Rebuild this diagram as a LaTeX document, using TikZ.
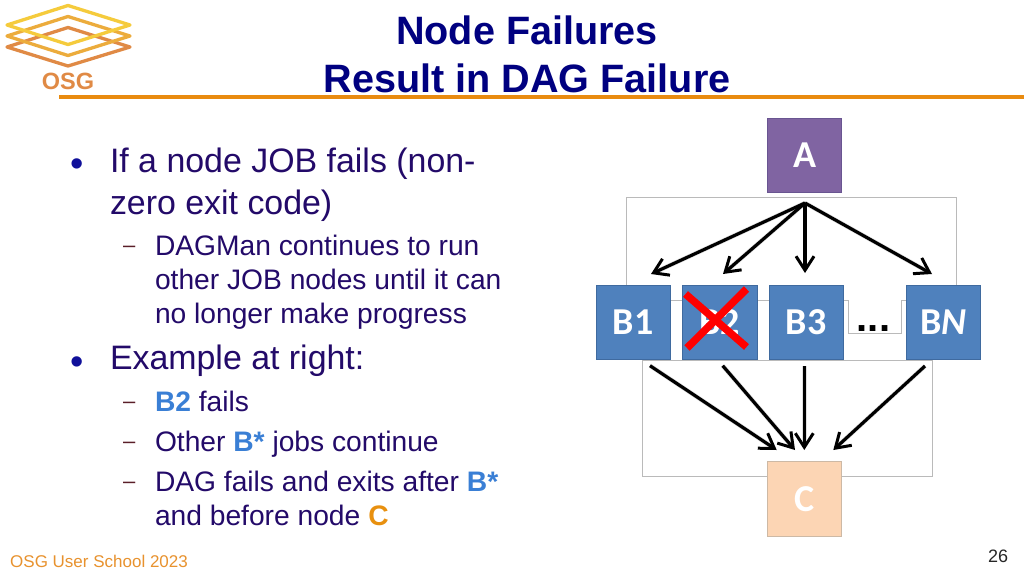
\documentclass[tikz,border=0pt]{standalone}
\usepackage{fontspec}
\setmainfont{Liberation Sans}
\newfontfamily\calfam{Carlito}
\usetikzlibrary{arrows.meta}
\definecolor{navy}{HTML}{000080}
\definecolor{bodyc}{HTML}{230A69}
\definecolor{bulc}{HTML}{10109A}
\definecolor{dashc}{HTML}{5A1E28}
\definecolor{blueb}{HTML}{4F81BD}
\definecolor{blueedge}{HTML}{3F6A9F}
\definecolor{hl}{HTML}{3A7FD5}
\definecolor{orangeh}{HTML}{E8900F}
\definecolor{rulec}{HTML}{E98B10}
\definecolor{osgc}{HTML}{E08A45}
\definecolor{footc}{HTML}{E8922E}
\tikzset{
 x=1pt,y=-1pt,
 lab/.style={inner sep=0pt,outer sep=0pt,anchor=base west,text=bodyc},
 big/.style={lab,font=\fontsize{33.9}{33.9}\selectfont},
 small/.style={lab,font=\fontsize{28.2}{28.2}\selectfont},
 bul/.style={inner sep=0pt,outer sep=0pt,anchor=base,text=bulc,font=\fontsize{38}{38}\selectfont},
 dsh/.style={inner sep=0pt,outer sep=0pt,anchor=base west,text=dashc,font=\fontsize{22}{22}\selectfont},
 title/.style={inner sep=0pt,anchor=base,text=navy,font=\fontsize{39.6}{39.6}\selectfont\bfseries},
 box/.style={minimum width=74pt,minimum height=74pt,inner sep=0pt,draw=blueedge,line width=.8pt,fill=blueb,text=white,font=\calfam\fontsize{38}{38}\selectfont\bfseries},
 arr/.style={draw=black,line width=3.2pt,-{Straight Barb[length=14pt,width=18pt,line width=3pt]}},
 arrshadow/.style={draw=black,opacity=.12,line width=4.5pt,shorten >=4pt},
 grp/.style={draw=black!27,line width=.8pt},
 logoline/.style={line width=3.3pt,line join=round},
}
\begin{document}
\begin{tikzpicture}
\useasboundingbox (0,0) rectangle (1024,576);
\fill[white] (0,0) rectangle (1024,576);
% logo
\draw[osgc,logoline] (7,47)--(68,27.5)--(130,47)--(68,66)--cycle;
\draw[color={rgb,255:red,236;green,172;blue,60},logoline] (7,36)--(68,16.5)--(130,36)--(68,55.5)--cycle;
\draw[color={rgb,255:red,245;green,203;blue,60},logoline] (7,25)--(68,5.5)--(130,25)--(68,44.5)--cycle;
\node[inner sep=0pt,anchor=base,text=osgc,font=\fontsize{23.5}{23.5}\selectfont\bfseries] (osg) at (68,89) {OSG};
\fill[rulec] (59,95) rectangle (1024,99);
% titles
\node[title] (t1) at (527,44.5) {Node Failures};
\node[title] (t2) at (527,92) {Result in DAG Failure};
% body
\node[bul] (b1) at (76.7,176.7) {•};
\node[big] (l1) at (110,172.5) {If a node JOB fails (non-};
\node[big] (l2) at (110,214) {zero exit code)};
\node[dsh] (d1) at (123,252.7) {–};
\node[small] (l3) at (155,255) {DAGMan continues to run};
\node[small] (l4) at (155,289) {other JOB nodes until it can};
\node[small] (l5) at (155,323) {no longer make progress};
\node[bul] (b2) at (76.7,374) {•};
\node[big] (l6) at (110,369.5) {Example at right:};
\node[dsh] (d2) at (123,408.7) {–};
\node[small] (l7) at (155,411) {\textcolor{hl}{\textbf{B2}} fails};
\node[dsh] (d3) at (123,448.7) {–};
\node[small] (l8) at (155,451) {Other \textcolor{hl}{\textbf{B*}} jobs continue};
\node[dsh] (d4) at (123,488.7) {–};
\node[small] (l9) at (155,491) {DAG fails and exits after \textcolor{hl}{\textbf{B*}}};
\node[small] (l10) at (155,525) {and before node \textcolor{orangeh}{\textbf{C}}};
\node[inner sep=0pt,anchor=base west,text=footc,font=\fontsize{17}{17}\selectfont] (foot) at (10,567) {OSG User School 2023};
\node[inner sep=0pt,anchor=base,text=black!85,font=\fontsize{18}{18}\selectfont] (pg) at (998,562) {26};
% group outlines
\draw[grp] (626.5,197.5) rectangle (956.5,300.5);
\draw[grp,fill=white] (848.5,300.5)--(848.5,333)--(901.5,333)--(901.5,300.5);
\fill[white] (849,299)rectangle(901,301.5);
\draw[grp] (642.5,360.5) rectangle (932.5,476);
% nodes
\node[box,fill={rgb,255:red,128;green,100;blue,162},draw={rgb,255:red,105;green,85;blue,145}] (A) at (804.5,155) {A};
\node[box] (B1) at (633,322) {B1};
\node[box,minimum width=75pt] (B2) at (719.7,322) {B2};
\node[box] (B3) at (806,322) {B3};
\node[box] (BN) at (943.3,322) {B\textit{N}};
\node[box,minimum height=75pt,fill={rgb,255:red,252;green,213;blue,180},draw={rgb,255:red,205;green,185;blue,165}] (C) at (804.7,499.2) {C};
\node[inner sep=0pt,anchor=base,font=\fontsize{40}{40}\selectfont\bfseries] (dots) at (873.5,331) {...};
% cross
\coordinate (x1) at (685.5,294);
\coordinate (x2) at (746.5,347);
\coordinate (x3) at (746.5,289);
\coordinate (x4) at (687,348);
\draw[red,line width=7.5pt] (x1)--(x2);
\draw[red,line width=7.5pt] (x3)--(x4);
% arrows
\coordinate (top) at (805,203);
\coordinate (e1) at (651,274);
\coordinate (e2) at (723,274);
\coordinate (e3) at (805,273);
\coordinate (e4) at (932,274);
\coordinate (s1) at (650,365.7);
\coordinate (s2) at (722.7,365.7);
\coordinate (s3) at (804.3,366);
\coordinate (s4) at (925,366);
\coordinate (f1) at (776.7,450);
\coordinate (f2) at (795,450);
\coordinate (f3) at (804.3,450);
\coordinate (f4) at (833.3,450);
\begin{scope}[yshift=-2pt]
\foreach \p/\q in {top/e1,top/e2,top/e3,top/e4,s1/f1,s2/f2,s3/f3,s4/f4}
  \draw[arrshadow] (\p)--(\q);
\end{scope}
\draw[arr] (top)--(e1);
\draw[arr] (top)--(e2);
\draw[arr] (top)--(e3);
\draw[arr] (top)--(e4);
\draw[arr] (s1)--(f1);
\draw[arr] (s2)--(f2);
\draw[arr] (s3)--(f3);
\draw[arr] (s4)--(f4);
\end{tikzpicture}
\end{document}
